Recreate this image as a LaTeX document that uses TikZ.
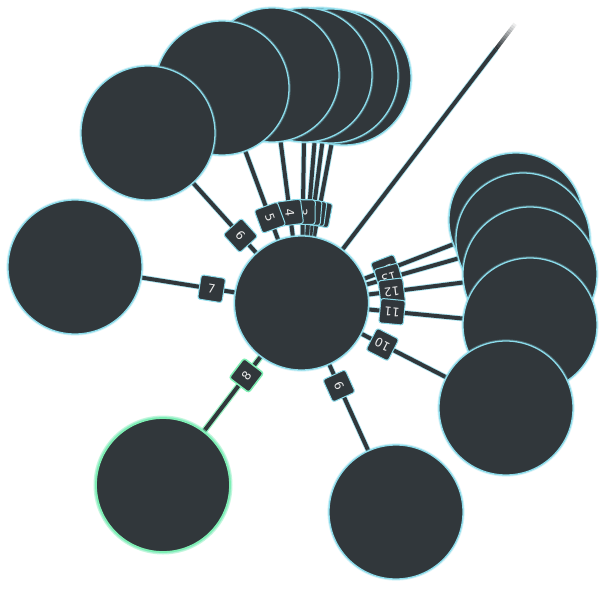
\documentclass[tikz,border=0pt]{standalone}
\usepackage{fontspec}
\setmainfont{DejaVu Sans}
\usetikzlibrary{calc}
\pgfdeclarelayer{bg}
\pgfdeclarelayer{paper}
\pgfsetlayers{paper,bg,main}
\definecolor{nodefill}{HTML}{31373B}
\definecolor{glowc}{HTML}{8CDCEB}
\definecolor{glowg}{HTML}{7EEFB4}
\tikzset{
  sat/.style={circle, fill=nodefill, draw=glowc, line width=1.3pt,
    minimum size=134pt, inner sep=0pt,
    preaction={draw=glowc, line width=3.2pt, opacity=.35}},
  satg/.style={sat, draw=glowg, line width=1.8pt,
    preaction={draw=glowg, line width=5pt, opacity=.45}},
  link/.style={draw=nodefill, line width=4pt,
    preaction={draw=glowc, line width=5.6pt, opacity=.75}},
  linkg/.style={draw=nodefill, line width=4pt,
    preaction={draw=glowg, line width=6.5pt, opacity=.8}},
  lab/.style={fill=nodefill, draw=glowc, line width=1pt, rounded corners=2.5pt,
    minimum size=24.5pt, inner sep=2pt, text=white!92!black,
    font=\fontsize{12}{12}\selectfont},
  labg/.style={lab, draw=glowg, line width=1.5pt}
}
\begin{document}
\begin{tikzpicture}[x=1pt,y=-1pt]
\begin{pgfonlayer}{paper}
\fill[white] (0,0) rectangle (606,606);
\end{pgfonlayer}
\useasboundingbox (0,0) rectangle (606,606);
% satellite nodes (drawing order gives the stacking)
\node[sat] (n0) at (344,78) {};
\node[sat] (n2) at (320,75) {};
\node[sat] (n1) at (331,76) {};
\node[sat] (n3) at (305,75) {};
\node[sat] (n4) at (272,75) {};
\node[sat] (n5) at (222,88) {};
\node[sat] (n6) at (148,133) {};
\node[sat] (n7) at (75,267) {};
\node[satg] (n8) at (163,485) {};
\node[sat] (n9) at (396,512) {};
\node[sat] (n14) at (516,220) {};
\node[sat] (n13) at (523,240) {};
\node[sat] (n12) at (530,274) {};
\node[sat] (n11) at (530,325) {};
\node[sat] (n10) at (506,408) {};
\node[sat] (c) at (301.5,303) {};
\coordinate (fs) at (496,49);
\coordinate (fe) at (515,24);
% connectors
\begin{pgfonlayer}{bg}
\foreach \i in {0,1,2,3,4,5,6,7,9,10,11,12,13,14}
  \draw[link] (c) -- (n\i);
\draw[linkg] (c) -- (n8);
\draw[link] (c) -- (fs);
\foreach \k [evaluate=\k as \a using \k/12,
             evaluate=\k as \b using (\k+1.05)/12,
             evaluate=\k as \o using 1-\k/12] in {0,...,11}
  \draw[draw=nodefill, line width=4pt, opacity=\o]
    ($(fs)!\a!(fe)$) -- ($(fs)!\b!(fe)$);
\end{pgfonlayer}
% edge labels
\foreach \i in {0,1,2,3,4,5,6,7,9,14,13,12,11,10}
  \path ($(c.center)!91pt!(n\i.center)$) -- (c.center)
    node[lab, sloped, allow upside down, pos=0] (L\i) {\i};
\path ($(c.center)!91pt!(n8.center)$) -- (c.center)
    node[labg, sloped, allow upside down, pos=0] (L8) {8};
\end{tikzpicture}
\end{document}
